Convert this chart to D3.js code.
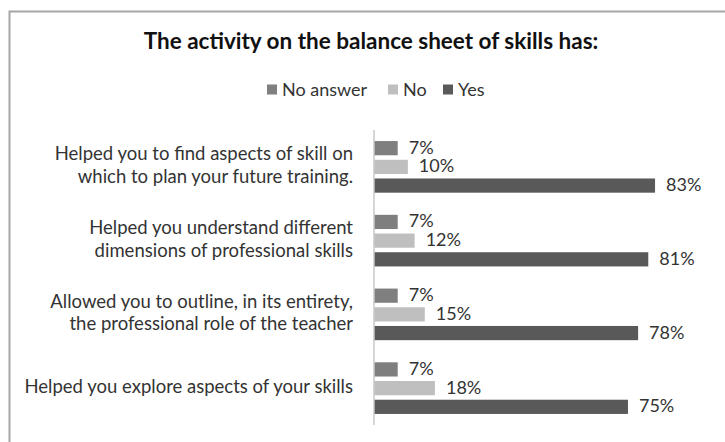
<!DOCTYPE html>
<html><head><meta charset="utf-8">
<script src="https://cdn.jsdelivr.net/npm/d3@7"></script>
<style>body{margin:0;background:#fff}svg{display:block}</style>
</head><body>
<script>
const categories = [
  ["Helped you to find aspects of skill on", "which to plan your future training."],
  ["Helped you understand different", "dimensions of professional skills"],
  ["Allowed you to outline, in its entirety,", "the professional role of the teacher"],
  ["Helped you explore aspects of your skills"]
];
const seriesNames = ["No answer", "No", "Yes"];
const noAnswer = [0.07, 0.07, 0.07, 0.07];
const no = [0.10, 0.12, 0.15, 0.18];
const yes = [0.83, 0.81, 0.78, 0.75];
const colors = ["#7f7f7f", "#bfbfbf", "#595959"];
const title = "The activity on the balance sheet of skills has:";

const W = 725, H = 442;
const svg = d3.select("body").append("svg").attr("width", W).attr("height", H);
const font = "Lato, 'Open Sans', sans-serif";

svg.append("rect").attr("x", 9.5).attr("y", 11.5).attr("width", 730).attr("height", 440)
  .attr("fill", "#fff").attr("stroke", "#a6a6a6").attr("stroke-width", 2);

svg.append("text").attr("x", 371).attr("y", 49).attr("text-anchor", "middle")
  .attr("font-family", font).attr("font-weight", "bold").attr("font-size", 22.5)
  .attr("fill", "#111").text(title);

const values = [noAnswer, no, yes];
const idx = d3.range(categories.length);
const x = d3.scaleLinear().domain([0, 1]).range([374, 374 + 338.6]);
const y0 = d3.scaleBand().domain(idx).range([130, 425]).paddingInner(0.3).paddingOuter(0.15);
const y1 = d3.scaleBand().domain(d3.range(3)).range([0, y0.bandwidth()]).paddingInner(0.24);

// legend
const legendX = [267, 388, 443];
const lg = svg.append("g");
seriesNames.forEach((s, i) => {
  lg.append("rect").attr("x", legendX[i]).attr("y", 84.5).attr("width", 10).attr("height", 10).attr("fill", colors[i]);
  lg.append("text").attr("x", legendX[i] + 15).attr("y", 95.5).attr("font-family", font)
    .attr("font-size", 18).attr("fill", "#333").text(s);
});

// bars
const groups = svg.append("g").selectAll("g").data(idx).join("g")
  .attr("transform", d => `translate(0,${y0(d)})`);
groups.selectAll("rect").data(c => values.map((v, s) => ({s, v: v[c]}))).join("rect")
  .attr("x", x(0)).attr("y", d => y1(d.s)).attr("width", d => x(d.v) - x(0))
  .attr("height", y1.bandwidth()).attr("fill", d => colors[d.s]);
groups.selectAll("text").data(c => values.map((v, s) => ({s, v: v[c]}))).join("text")
  .attr("x", d => x(d.v) + 11).attr("y", d => y1(d.s) + y1.bandwidth() / 2 + 1)
  .attr("dominant-baseline", "middle").attr("font-family", font).attr("font-size", 18)
  .attr("fill", "#333").text(d => d3.format(".0%")(d.v));

// axis
const yAxis = d3.axisLeft(y0).tickSize(0).tickFormat("");
const ax = svg.append("g").attr("transform", `translate(${x(0)},0)`).call(yAxis);
ax.select(".domain").attr("stroke", "#c8c8c8").attr("stroke-width", 1.5)
  .attr("d", `M0,${y0.range()[0]}V${y0.range()[1]}`);

// category labels
const lab = svg.append("g");
idx.forEach(i => {
  const lines = categories[i];
  const cy = y0(i) + y0.bandwidth() / 2;
  const lh = 22.5;
  lines.forEach((ln, j) => {
    lab.append("text").attr("x", 353).attr("y", cy + (j - (lines.length - 1) / 2) * lh)
      .attr("dominant-baseline", "middle").attr("text-anchor", "end")
      .attr("font-family", font).attr("font-size", 18.5).attr("fill", "#333").text(ln);
  });
});
</script>
</body></html>
